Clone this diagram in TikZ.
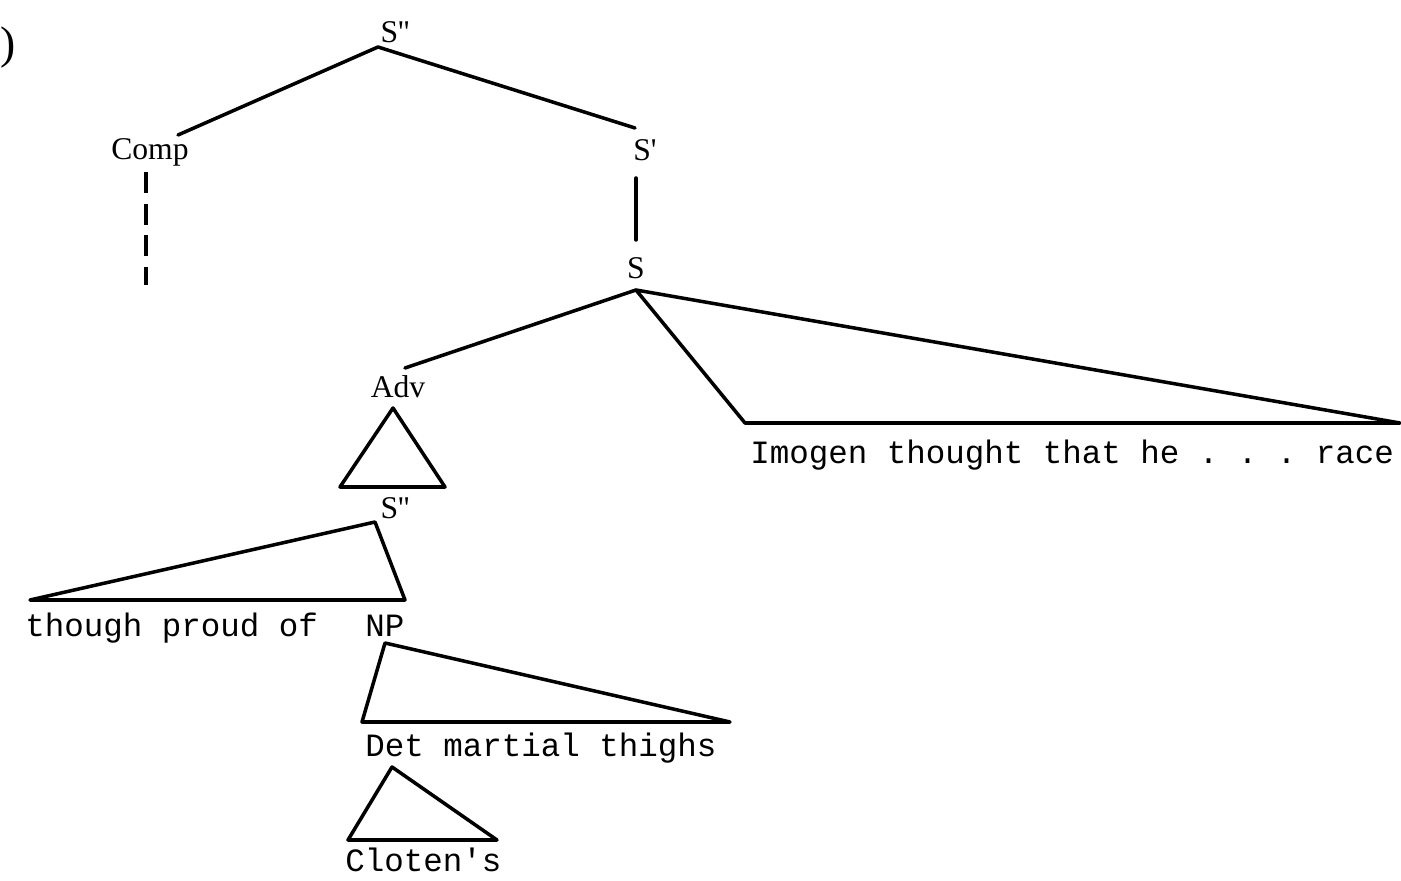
\documentclass[tikz,border=0pt]{standalone}
\usepackage{fontspec}
\setmainfont{Liberation Serif}
\setmonofont{Liberation Mono}
\usetikzlibrary{positioning}
\tikzset{
  catlabel/.style={inner sep=0pt, font=\fontsize{18}{20}\selectfont},
  wordstr/.style={inner sep=0pt, anchor=base west, font=\ttfamily\fontsize{18.5}{20}\selectfont},
  branch/.style={line width=2pt, line join=round, line cap=round},
  dashbranch/.style={line width=2pt, dash pattern=on 12pt off 6pt},
}
\newcommand{\sprime}{\textquotesingle}

\begin{document}
\begin{tikzpicture}[x=0.02cm, y=-0.02cm]
  \useasboundingbox (0,0) rectangle (1401,881);

  % category labels
  \node[catlabel, font=\fontsize{26}{28}\selectfont] (paren) at (8,48) {)};
  \node[catlabel] (stop) at (395,32) {S\sprime\sprime};
  \node[catlabel] (comp) at (150,152) {Comp};
  \node[catlabel] (sbar) at (645,150) {S\sprime};
  \node[catlabel] (s)    at (636,268) {S};
  \node[catlabel] (adv)  at (398,387) {Adv};
  \node[catlabel] (smid) at (395,508) {S\sprime\sprime};

  % terminal strings
  \node[wordstr] (imogen) at (750,464) {Imogen thought that he . . . race};
  \node[wordstr] (though) at (25,637)  {though proud of};
  \node[wordstr] (np)     at (365,637) {NP};
  \node[wordstr] (det)    at (365,757) {Det};
  \node[wordstr] (thighs) at (443,757) {martial thighs};
  \node[wordstr] (cloten) at (345,872) {Cloten's};

  % branch points
  \coordinate (stop-f)  at (378,47);
  \coordinate (comp-h)  at (178,135);
  \coordinate (sbar-h)  at (635,128);
  \coordinate (comp-a)  at (146,172);
  \coordinate (comp-b)  at (146,285);
  \coordinate (sbar-f)  at (636,178);
  \coordinate (s-h)     at (636,240);
  \coordinate (s-f)     at (636,290);
  \coordinate (adv-h)   at (405,368);
  \coordinate (vp-l)    at (745,423);
  \coordinate (vp-r)    at (1400,423);
  \coordinate (adv-f)   at (393,408);
  \coordinate (adv-l)   at (340,487);
  \coordinate (adv-r)   at (445,487);
  \coordinate (smid-f)  at (375,522);
  \coordinate (smid-l)  at (30,600);
  \coordinate (smid-r)  at (405,600);
  \coordinate (np-f)    at (385,643);
  \coordinate (np-l)    at (362,722);
  \coordinate (np-r)    at (730,722);
  \coordinate (det-f)   at (392,767);
  \coordinate (det-l)   at (348,840);
  \coordinate (det-r)   at (497,840);

  \draw[branch] (comp-h) -- (stop-f) -- (sbar-h);
  \draw[dashbranch] (comp-a) -- (comp-b);
  \draw[branch] (sbar-f) -- (s-h);
  \draw[branch] (adv-h) -- (s-f);
  \draw[branch] (s-f) -- (vp-l) -- (vp-r) -- cycle;
  \draw[branch] (adv-f) -- (adv-l) -- (adv-r) -- cycle;
  \draw[branch] (smid-f) -- (smid-l) -- (smid-r) -- cycle;
  \draw[branch] (np-f) -- (np-l) -- (np-r) -- cycle;
  \draw[branch] (det-f) -- (det-l) -- (det-r) -- cycle;
\end{tikzpicture}
\end{document}
